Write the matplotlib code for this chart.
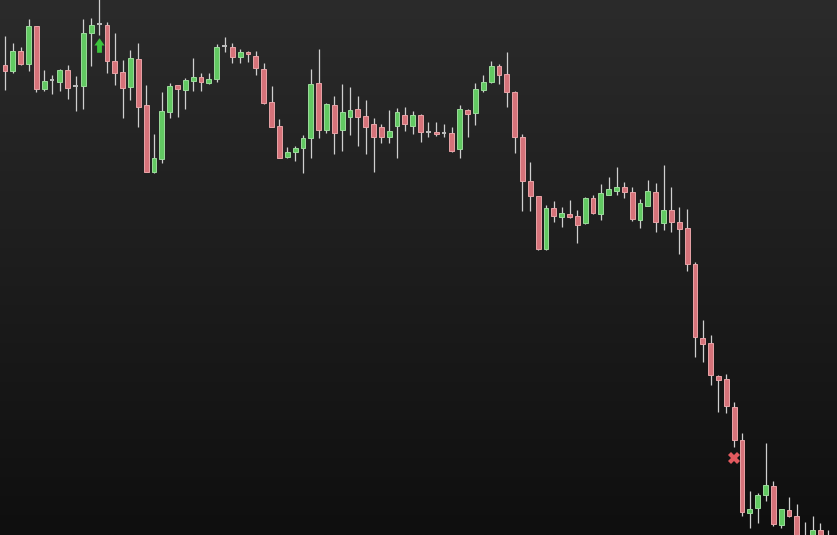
import numpy as np
import matplotlib
matplotlib.use("Agg")
import matplotlib.pyplot as plt
from matplotlib.path import Path

# OHLC (no axis shown, arbitrary price units)
opens = [53.5, 52.9, 54.9, 53.6, 57.4, 51.1, 52.0, 51.8, 53.0, 51.4,
         51.4, 56.7, 57.6, 57.5, 53.9, 52.8, 51.3, 54.1, 49.5, 42.8,
         44.1, 48.8, 51.5, 51.0, 51.9, 52.3, 51.7, 52.1, 55.4, 55.3,
         54.3, 54.8, 54.4, 53.1, 49.8, 47.4, 44.3, 44.8, 45.2, 46.2,
         51.7, 47.0, 49.5, 47.0, 48.3, 49.1, 48.4, 47.6, 47.3, 46.3,
         47.4, 48.5, 47.4, 48.5, 46.8, 46.8, 46.7, 46.7, 45.1, 49.0,
         48.7, 51.0, 51.8, 53.4, 52.6, 50.8, 46.3, 41.9, 40.4, 35.1,
         39.2, 38.3, 38.6, 38.4, 37.7, 40.2, 38.6, 40.5, 40.9, 41.3,
         40.8, 38.0, 39.4, 40.8, 37.7, 39.0, 37.8, 37.2, 33.6, 26.2,
         25.7, 22.4, 22.1, 19.3, 16.0, 8.7, 9.2, 10.5, 11.4, 7.5,
         9.0, 8.4, 6.2, 5.5, 7.0, 5.5]
highs = [56.4, 55.7, 55.3, 58.1, 57.4, 53.0, 52.5, 53.1, 53.5, 52.4,
         58.1, 58.2, 60.2, 57.8, 56.7, 54.0, 55.0, 55.7, 51.5, 46.6,
         50.8, 51.7, 51.5, 52.2, 54.2, 52.7, 52.7, 55.6, 56.3, 55.7,
         55.1, 54.9, 54.9, 53.7, 51.4, 48.1, 45.3, 45.4, 46.5, 53.1,
         55.1, 49.7, 50.4, 51.6, 51.3, 50.4, 50.0, 48.2, 47.6, 49.0,
         49.2, 49.3, 48.9, 48.6, 47.8, 47.8, 47.6, 47.3, 49.5, 49.1,
         51.7, 52.5, 53.9, 53.6, 54.8, 50.9, 46.6, 43.8, 40.4, 39.5,
         39.9, 39.3, 40.0, 39.0, 40.3, 40.5, 41.6, 42.3, 43.3, 41.8,
         41.3, 40.1, 42.0, 41.7, 43.5, 41.3, 39.3, 39.1, 33.8, 28.0,
         26.5, 22.5, 22.6, 19.8, 16.7, 10.9, 10.7, 15.7, 11.9, 9.1,
         10.3, 9.6, 7.8, 8.4, 7.7, 7.0]
lows = [51.0, 52.7, 53.5, 52.9, 50.8, 50.9, 50.6, 50.9, 50.1, 48.9,
        49.1, 53.4, 56.5, 52.7, 51.5, 48.2, 50.0, 47.3, 42.8, 42.7,
        43.7, 48.2, 48.3, 49.1, 50.9, 50.9, 51.6, 51.8, 54.8, 53.7,
        53.7, 53.8, 52.5, 49.6, 47.3, 44.2, 44.2, 43.9, 42.7, 44.2,
        46.2, 46.7, 44.6, 44.9, 46.5, 45.4, 44.6, 42.8, 45.7, 45.7,
        44.2, 46.9, 46.6, 45.8, 46.3, 46.4, 46.3, 44.8, 44.2, 46.3,
        47.5, 50.8, 51.7, 51.6, 49.3, 44.7, 38.9, 38.9, 35.0, 35.0,
        37.8, 37.3, 38.2, 35.7, 37.6, 38.6, 38.0, 40.5, 40.5, 40.2,
        37.9, 37.2, 39.4, 36.8, 37.0, 36.8, 34.6, 32.9, 24.3, 23.8,
        21.5, 18.8, 18.7, 15.3, 8.4, 7.2, 7.7, 9.9, 7.4, 7.2,
        8.3, 5.5, 4.4, 5.0, 5.2, 5.0]
closes = [52.9, 54.9, 53.6, 57.4, 51.1, 51.9, 52.0, 53.0, 51.2, 51.4,
          56.7, 57.5, 57.6, 53.9, 52.7, 51.2, 54.2, 49.3, 42.8, 44.2,
          48.9, 51.4, 51.1, 52.0, 52.3, 51.8, 52.1, 55.3, 55.4, 54.3,
          54.8, 54.6, 53.2, 49.7, 47.3, 44.2, 44.8, 45.2, 46.2, 51.6,
          47.0, 49.6, 46.7, 48.8, 49.0, 48.3, 47.3, 46.3, 46.3, 46.9,
          48.8, 47.6, 48.5, 46.8, 46.8, 46.6, 46.7, 44.9, 49.1, 48.6,
          51.1, 51.8, 53.4, 52.5, 50.8, 46.3, 41.9, 40.4, 35.1, 39.2,
          38.4, 38.7, 38.3, 37.5, 40.2, 38.7, 40.7, 41.1, 41.3, 40.8,
          38.1, 39.7, 40.9, 37.8, 39.0, 37.8, 37.1, 33.6, 26.3, 25.6,
          22.5, 22.0, 19.4, 16.0, 8.8, 9.1, 10.5, 11.5, 7.6, 9.1,
          8.4, 6.0, 5.0, 7.0, 6.0, 6.4]

buy_signals = [12]    # candle index with up arrow under it
sell_signals = [93]   # candle index with cross under it

o = np.array(opens)
h = np.array(highs)
l = np.array(lows)
c = np.array(closes)
x = np.arange(len(o))

up_col, up_edge = "#62c962", "#9bdc9b"
dn_col, dn_edge = "#d6737a", "#e9a3a7"
doji_col = "#bdbdbd"
wick_col = "#cfcfcf"

fig = plt.figure(figsize=(8.3701, 5.3501), dpi=100)
ax = fig.add_axes([0, 0, 1, 1])
xmin, xmax = -0.64, 106.12
ymin, ymax = 6.5, 60.0
ax.set_xlim(xmin, xmax)
ax.set_ylim(ymin, ymax)
ax.axis("off")

# dark vertical gradient background
grad = np.linspace(0, 1, 256).reshape(-1, 1)
top = np.array([43, 43, 43]) / 255
bot = np.array([15, 15, 15]) / 255
img = top + (bot - top) * grad[:, :, None]
ax.imshow(img, extent=[xmin, xmax, ymin, ymax], aspect="auto", origin="upper", zorder=0)

# wicks
ax.vlines(x, l, h, color=wick_col, linewidth=0.9, zorder=1)

w = 0.62
up = c > o
dn = c < o
eq = c == o
ax.bar(x[up], (c - o)[up], bottom=o[up], width=w, color=up_col,
       edgecolor=up_edge, linewidth=0.7, zorder=2)
ax.bar(x[dn], (o - c)[dn], bottom=c[dn], width=w, color=dn_col,
       edgecolor=dn_edge, linewidth=0.7, zorder=2)
ax.hlines(o[eq], x[eq] - w / 2, x[eq] + w / 2, color=doji_col, linewidth=1.4, zorder=2)

# signal markers
arrow = Path([(0, 1), (0.7, 0), (0.33, 0), (0.33, -1), (-0.33, -1), (-0.33, 0), (-0.7, 0), (0, 1)],
             [Path.MOVETO] + [Path.LINETO] * 6 + [Path.CLOSEPOLY])
for i in buy_signals:
    ax.plot(x[i], l[i] - 1.0, marker=arrow, markersize=10.5, color="#3cc43c",
            markeredgewidth=0, zorder=3)
for i in sell_signals:
    ax.plot(x[i], l[i] - 1.1, marker="X", markersize=9, color="#e35a5f",
            markeredgewidth=0, zorder=3)

fig.savefig("out.png", dpi=100)
